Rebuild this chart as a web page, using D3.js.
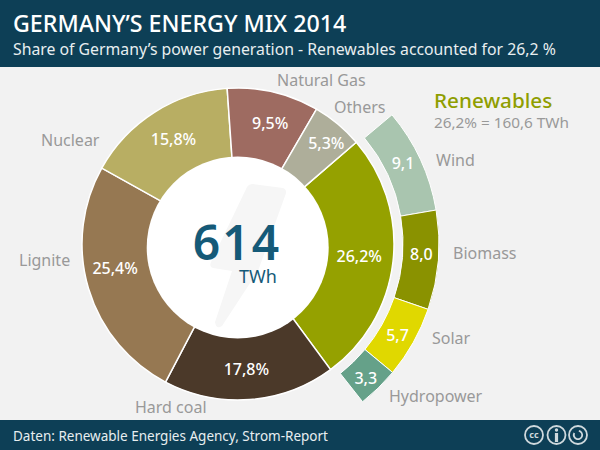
<!DOCTYPE html>
<html>
<head>
<meta charset="utf-8">
<script src="https://cdnjs.cloudflare.com/ajax/libs/d3/7.8.5/d3.min.js"></script>
<style>
  html, body { margin: 0; padding: 0; background: #f2f2f2; }
  svg { display: block; }
  text { font-family: "Noto Sans", "Open Sans", sans-serif; }
</style>
</head>
<body>
<div id="chart"></div>
<script>
// energy mix, inner ring (percent of generation)
var mixNames = ['Renewables', 'Hard coal', 'Lignite', 'Nuclear', 'Natural Gas', 'Others'];
var mixValues = [26.2, 17.8, 25.4, 15.8, 9.5, 5.3];
var mixLabels = ['26,2%', '17,8%', '25,4%', '15,8%', '9,5%', '5,3%'];
var mixColors = ['#95a100', '#4b3929', '#967852', '#b8ae63', '#9e6b61', '#aeae9a'];

// renewables, outer ring. printed figures, and arc widths
var renewNames = ['Wind', 'Biomass', 'Solar', 'Hydropower'];
var renewPrinted = ['9,1', '8,0', '5,7', '3,3'];
var renewWidths = [8.6, 8.15, 5.9, 3.4];
var renewColors = ['#a9c5af', '#8a9200', '#e0d800', '#65a189'];

var width = 600;
var height = 450;
var cx = 238;
var cy = 244;
var toRad = Math.PI / 180;

var svg = d3.select('#chart').append('svg')
  .attr('width', width).attr('height', height);

svg.append('rect').attr('width', width).attr('height', height).attr('fill', '#f2f2f2');

// header
svg.append('rect').attr('width', width).attr('height', 67).attr('fill', '#0d3f56');
svg.append('text').attr('x', 13).attr('y', 32)
  .attr('fill', '#fff').attr('font-size', 23.2).attr('font-weight', 500)
  .text('GERMANY’S ENERGY MIX 2014');
svg.append('text').attr('x', 13).attr('y', 55)
  .attr('fill', '#e8eef0').attr('font-size', 15.8)
  .text('Share of Germany’s power generation - Renewables accounted for 26,2 %');

// footer
svg.append('rect').attr('y', 420).attr('width', width).attr('height', 30).attr('fill', '#0d3f56');
svg.append('text').attr('x', 13).attr('y', 441)
  .attr('fill', '#e8eef0').attr('font-size', 13.5)
  .text('Daten: Renewable Energies Agency, Strom-Report');

// cc badges
var badgeColor = '#cfd9dd';
var badges = svg.append('g').attr('fill', 'none').attr('stroke', badgeColor).attr('stroke-width', 1.8);
[534, 556.5, 578].forEach(function(x) {
  badges.append('circle').attr('cx', x).attr('cy', 435).attr('r', 9);
});
svg.append('text').attr('x', 534).attr('y', 438).attr('text-anchor', 'middle')
  .attr('fill', badgeColor).attr('font-size', 9).attr('font-weight', 700).text('cc');
svg.append('circle').attr('cx', 556.5).attr('cy', 430).attr('r', 1.7).attr('fill', badgeColor);
svg.append('line').attr('x1', 556.5).attr('x2', 556.5).attr('y1', 433).attr('y2', 442)
  .attr('stroke', badgeColor).attr('stroke-width', 3.2);
badges.append('path').attr('d', d3.arc()({innerRadius: 4.2, outerRadius: 4.2, startAngle: 0.2, endAngle: 5.2}))
  .attr('transform', 'translate(578,435)');

// inner ring
var mixPie = d3.pie().sort(null).startAngle(49.3 * toRad).endAngle(409.3 * toRad);
var mixArc = d3.arc().innerRadius(80).outerRadius(156);
var labelArc = d3.arc().innerRadius(92).outerRadius(156);
var mixSlices = mixPie(mixValues);

var ring = svg.append('g').attr('transform', 'translate(' + cx + ',' + cy + ')');
ring.selectAll('path').data(mixSlices).enter().append('path')
  .attr('d', mixArc)
  .attr('fill', function(d, i) { return mixColors[i]; })
  .attr('stroke', '#fff')
  .attr('stroke-width', 1.5);

// outer ring
var renewPie = d3.pie().sort(null).startAngle(50 * toRad).endAngle(141.7 * toRad);
var renewArc = d3.arc().innerRadius(165).outerRadius(201);
var renewSlices = renewPie(renewWidths);

var outer = svg.append('g').attr('transform', 'translate(' + cx + ',' + cy + ')');
outer.selectAll('path').data(renewSlices).enter().append('path')
  .attr('d', renewArc)
  .attr('fill', function(d, i) { return renewColors[i]; })
  .attr('stroke', '#fff')
  .attr('stroke-width', 1);

// white hub with the faint bolt
svg.append('circle').attr('cx', 237.7).attr('cy', 247.5).attr('r', 91).attr('fill', '#fff');
svg.append('path')
  .attr('d', 'M253 184 L283 188 Q288 190 285 196 L258 271 L222 326 Q216 330 215 322 L232 271 L213 268 Q209 267 211 262 L247 187 Q249 184 253 184 Z')
  .attr('fill', '#f6f6f6');

svg.append('text').attr('x', 237).attr('y', 260).attr('text-anchor', 'middle')
  .attr('fill', '#155a78').attr('font-size', 48).attr('font-weight', 600)
  .attr('letter-spacing', 2)
  .text('614');
svg.append('text').attr('x', 258).attr('y', 283).attr('text-anchor', 'middle')
  .attr('fill', '#155a78').attr('font-size', 18)
  .text('TWh');

// values on the rings
var mixNudge = [[-2, -2], [-1, 2], [-4, -11], [2, 0], [4, 0], [9, -5]];
ring.selectAll('.mix-label').data(mixSlices).enter().append('text')
  .attr('class', 'mix-label')
  .attr('transform', function(d, i) {
    var c = labelArc.centroid(d);
    return 'translate(' + (c[0] + mixNudge[i][0]) + ',' + (c[1] + mixNudge[i][1]) + ')';
  })
  .attr('text-anchor', 'middle').attr('dy', '0.36em')
  .attr('fill', '#fff').attr('font-size', 16).attr('font-weight', 500)
  .text(function(d, i) { return mixLabels[i]; });

var renewNudge = [[-1, -4], [1, -4], [0, 2], [0, 3]];
outer.selectAll('.renew-label').data(renewSlices).enter().append('text')
  .attr('class', 'renew-label')
  .attr('transform', function(d, i) {
    var c = renewArc.centroid(d);
    return 'translate(' + (c[0] + renewNudge[i][0]) + ',' + (c[1] + renewNudge[i][1]) + ')';
  })
  .attr('text-anchor', 'middle').attr('dy', '0.36em')
  .attr('fill', '#fff').attr('font-size', 16).attr('font-weight', 500)
  .text(function(d, i) { return renewPrinted[i]; });

// category names around the chart
var mixNamePos = [null, [135, 413], [19, 266], [41, 146], [277, 86], [334, 113]];
svg.selectAll('.mix-name').data(mixNames).enter()
  .filter(function(d, i) { return mixNamePos[i]; })
  .append('text')
  .attr('class', 'mix-name')
  .attr('x', function(d) { return mixNamePos[mixNames.indexOf(d)][0]; })
  .attr('y', function(d) { return mixNamePos[mixNames.indexOf(d)][1]; })
  .attr('fill', '#999').attr('font-size', 16)
  .text(function(d) { return d; });

var renewNamePos = [[436, 166], [453, 259], [432, 344], [389, 402]];
svg.selectAll('.renew-name').data(renewNames).enter().append('text')
  .attr('class', 'renew-name')
  .attr('x', function(d, i) { return renewNamePos[i][0]; })
  .attr('y', function(d, i) { return renewNamePos[i][1]; })
  .attr('fill', '#999').attr('font-size', 16)
  .text(function(d) { return d; });

// renewables heading
svg.append('text').attr('x', 434).attr('y', 108)
  .attr('fill', '#8f9e00').attr('font-size', 20.7).attr('font-weight', 500)
  .text('Renewables');
svg.append('text').attr('x', 434).attr('y', 128)
  .attr('fill', '#999').attr('font-size', 15.3)
  .text('26,2% = 160,6 TWh');
</script>
</body>
</html>
